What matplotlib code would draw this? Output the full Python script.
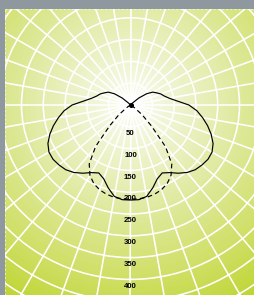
import numpy as np
import matplotlib
matplotlib.use("Agg")
import matplotlib.pyplot as plt
from matplotlib.colors import LinearSegmentedColormap
from matplotlib.patches import Rectangle
from matplotlib.lines import Line2D

# ---- data: polar angle from nadir (deg) and intensity (cd/klm) ----
gamma = [0, 5, 10, 15, 20, 25, 30, 35, 40, 45, 50, 55, 60, 65, 70, 75, 80, 85, 90,
         95, 100, 105, 110, 115, 120, 125, 130, 135, 140, 145, 150, 155, 160, 165, 170, 175, 180]
c0_c180 = [218, 218, 213, 197, 180, 172, 179, 191, 202, 210, 214, 217, 216, 209, 197, 183, 168, 153, 134,
           107, 90, 80, 74, 66, 59, 45, 25, 6, 0, 0, 0, 0, 0, 0, 0, 0, 0]
c90_c270 = [216, 216, 215, 212, 207, 199, 186, 165, 125, 68, 35, 12, 3, 0, 0, 0, 0, 0, 0,
            0, 0, 0, 0, 0, 0, 0, 0, 0, 0, 0, 0, 0, 0, 0, 0, 0, 0]
ring_values = [50, 100, 150, 200, 250, 300, 350, 400, 450, 500, 550, 600]
label_values = [50, 100, 150, 200, 250, 300, 350, 400]
spoke_angles = list(range(0, 360, 10))

W, H = 254, 295
DPI = 100
fig = plt.figure(figsize=(W / DPI, H / DPI), dpi=DPI, facecolor="#8f979f")

# plot area in pixels
left_px, top_px = 5, 9
cx_px, cy_px = 130.5, 105.0          # polar centre (from top-left)
px_per_unit = 21.8 / 50.0

# ---- gradient background ----
bg = fig.add_axes([left_px / W, 0, (W - left_px) / W, (H - top_px) / H])
bg.set_axis_off()
xs = np.arange(left_px, W) + 0.5
ys = np.arange(top_px, H) + 0.5
X, Y = np.meshgrid(xs, ys)
D = np.hypot(X - cx_px, Y - cy_px)
t = np.clip(D / 235.0, 0, 1)
cmap = LinearSegmentedColormap.from_list(
    "glow", [(0.0, "#fbfdf3"), (0.12, "#f3f7de"), (0.45, "#e0ea9f"),
             (0.75, "#cfdf64"), (1.0, "#bcd42c")])
bg.imshow(t, cmap=cmap, vmin=0, vmax=1, aspect="auto", interpolation="bilinear")

# ---- polar axes ----
rmax = 600
R_px = rmax * px_per_unit
pax = fig.add_axes([(cx_px - R_px) / W, ((H - cy_px) - R_px) / H, 2 * R_px / W, 2 * R_px / H],
                   projection="polar")
pax.set_facecolor("none")
pax.set_theta_zero_location("S")
pax.set_ylim(0, rmax)
pax.set_rgrids(ring_values, labels=[""] * len(ring_values))
pax.set_thetagrids(spoke_angles, labels=[""] * len(spoke_angles))
pax.grid(True, color="white", linewidth=1.15)
pax.spines["polar"].set_visible(False)
pax.tick_params(length=0)

g = np.deg2rad(np.array(gamma, dtype=float))
def full(vals):
    v = np.array(vals, dtype=float)
    th = np.concatenate([-g[::-1], g[1:]])
    rr = np.concatenate([v[::-1], v[1:]])
    return th, rr

th, rr = full(c0_c180)
pax.plot(th, rr, color="black", lw=0.85, solid_joinstyle="round", zorder=5)
th, rr = full(c90_c270)
pax.plot(th, rr, color="black", lw=0.85, ls=(0, (4.0, 2.8)), zorder=5)
pax.plot([0], [0], "o", color="black", ms=2.6, zorder=6)

for v in label_values:
    pax.text(0, v + 15.5, str(v), ha="center", va="center", fontsize=5.6,
             fontweight="bold", family="Liberation Sans", color="black", zorder=7)

# ---- grey frame on top/left ----
fig.add_artist(Rectangle((0, (H - top_px) / H), 1, top_px / H, transform=fig.transFigure,
                         facecolor="#8f979f", edgecolor="none", zorder=10))
fig.add_artist(Rectangle((0, 0), left_px / W, 1, transform=fig.transFigure,
                         facecolor="#8f979f", edgecolor="none", zorder=10))
fig.add_artist(Line2D([left_px / W, 1], [(H - top_px + 0.5) / H] * 2, transform=fig.transFigure,
                      color="white", lw=0.6, ls=(0, (2, 3)), alpha=0.8, zorder=11))
fig.add_artist(Line2D([(left_px - 0.5) / W] * 2, [0, (H - top_px) / H], transform=fig.transFigure,
                      color="white", lw=0.6, ls=(0, (2, 3)), alpha=0.8, zorder=11))

fig.savefig("out.png", dpi=DPI, facecolor=fig.get_facecolor())
